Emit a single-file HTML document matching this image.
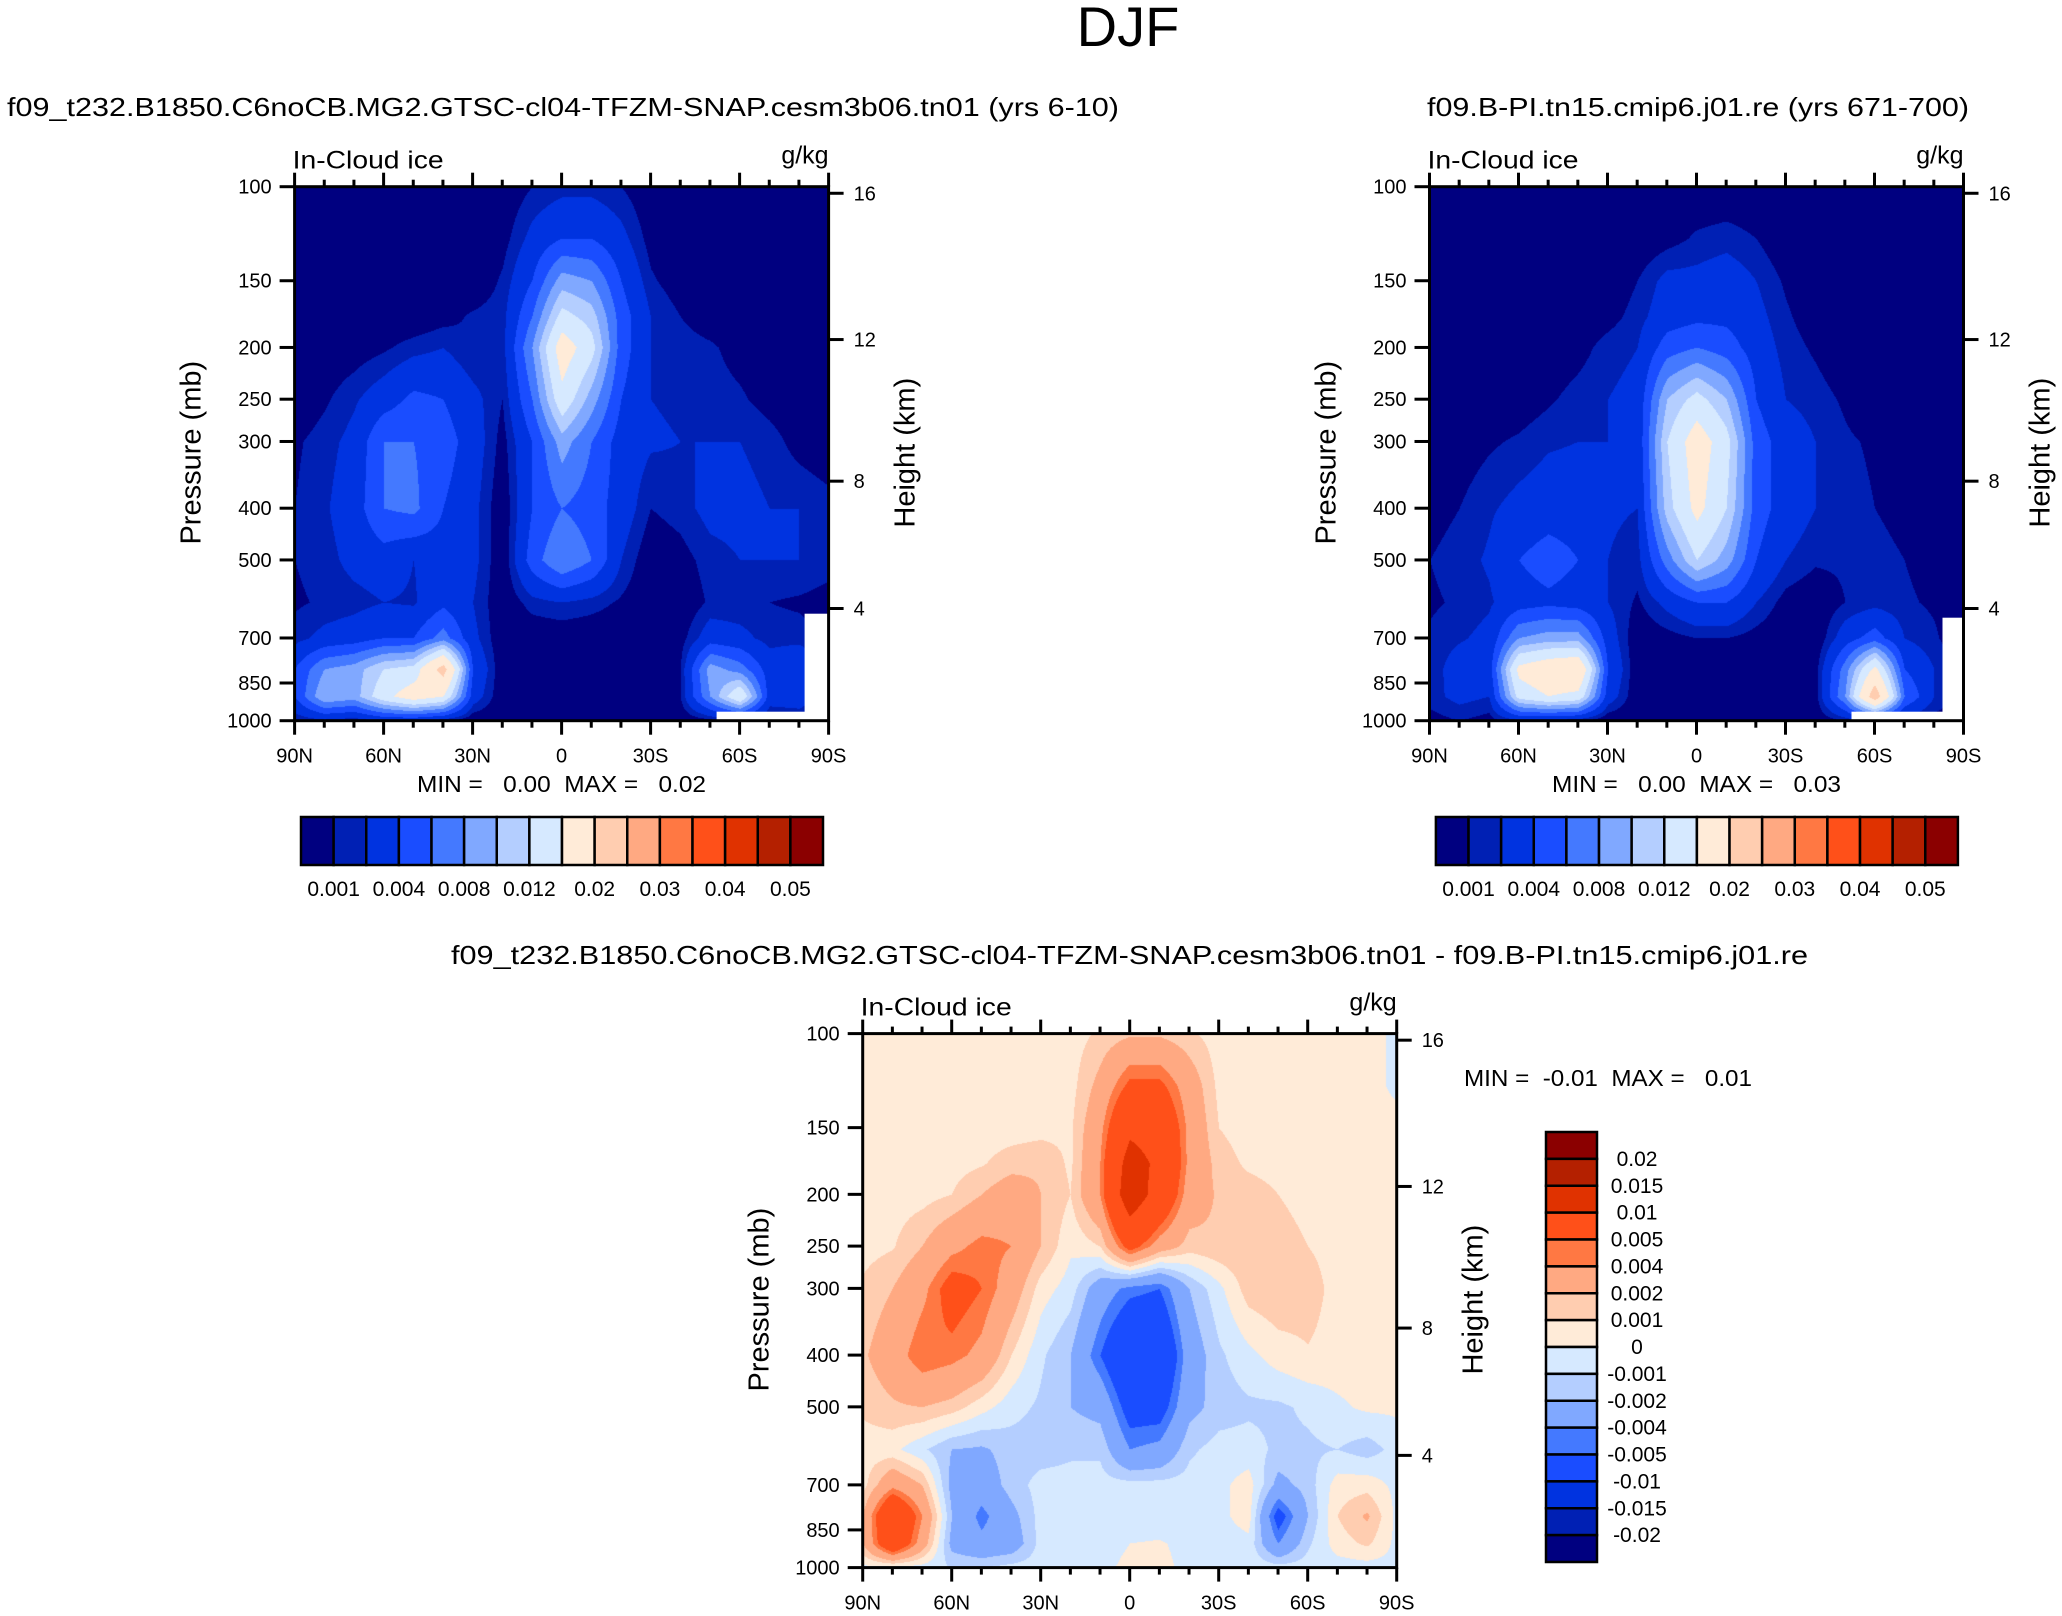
<!DOCTYPE html>
<html><head><meta charset="utf-8">
<style>
html,body{margin:0;padding:0;background:#fff;}
#wrap{position:relative;width:2062px;height:1616px;overflow:hidden;font-family:"Liberation Sans",Arial,sans-serif;}
canvas{position:absolute;}
svg{position:absolute;left:0;top:0;}
</style></head>
<body>
<div id="wrap">
<canvas id="c1" width="534" height="534" style="left:295px;top:187px"></canvas>
<canvas id="c2" width="534" height="534" style="left:1430px;top:187px"></canvas>
<canvas id="c3" width="534" height="534" style="left:863px;top:1034px"></canvas>
<svg id="ov" width="2062" height="1616" xmlns="http://www.w3.org/2000/svg">
<text x="1128" y="46" font-size="56" text-anchor="middle">DJF</text>
<text x="7" y="116" font-size="26" textLength="1112" lengthAdjust="spacingAndGlyphs">f09_t232.B1850.C6noCB.MG2.GTSC-cl04-TFZM-SNAP.cesm3b06.tn01 (yrs 6-10)</text>
<text x="1427" y="116" font-size="26" textLength="542" lengthAdjust="spacingAndGlyphs">f09.B-PI.tn15.cmip6.j01.re (yrs 671-700)</text>
<text x="451" y="964" font-size="26" textLength="1357" lengthAdjust="spacingAndGlyphs">f09_t232.B1850.C6noCB.MG2.GTSC-cl04-TFZM-SNAP.cesm3b06.tn01 - f09.B-PI.tn15.cmip6.j01.re</text>
<text x="417" y="792" font-size="23" textLength="289" lengthAdjust="spacingAndGlyphs" xml:space="preserve">MIN =   0.00  MAX =   0.02</text>
<text x="1552" y="792" font-size="23" textLength="289" lengthAdjust="spacingAndGlyphs" xml:space="preserve">MIN =   0.00  MAX =   0.03</text>
<text x="1464" y="1086" font-size="23" textLength="288" lengthAdjust="spacingAndGlyphs" xml:space="preserve">MIN =  -0.01  MAX =   0.01</text>
</svg>
</div>
<script>
// ---- data (units of 1e-3 g/kg) ----
const lats = ['90N','80N','70N','60N','50N','40N','30N','20N','10N','0','10S','20S','30S','40S','50S','60S','70S','80S','90S'];
const plev = [100,125,150,175,200,250,300,400,500,600,700,800,900,1000];
const latTickLabels = ['90N','60N','30N','0','30S','60S','90S'];
const pTickValues = [100,150,200,250,300,400,500,700,850,1000];
const zTickValues = [16,12,8,4];
const absLevels = [1,2,4,6,8,10,12,15,20,25,30,35,40,45,50];
const absLabels = ['0.001','0.004','0.008','0.012','0.02','0.03','0.04','0.05'];
const diffLevels = [-20,-15,-10,-5,-4,-2,-1,0,1,2,4,5,10,15,20];
const diffLabels = ['-0.02','-0.015','-0.01','-0.005','-0.004','-0.002','-0.001','0','0.001','0.002','0.004','0.005','0.01','0.015','0.02'];
const palette = ['#000080','#0020b4','#0033e0','#1a4dff','#4479ff','#80a8ff','#b4ceff','#d6e9ff','#ffebd8','#ffcdb0','#ffa982','#ff7843','#ff5019','#e03200','#b42000','#8b0000'];

const iceCase = [
[0,0,0,0,0,0,0,0,1,1.5,1.5,1,0,0,0,0,0,0,0],
[0,0,0,0,0,0,0,0.5,2.5,4,4,2.5,0.5,0,0,0,0,0,0],
[0,0,0,0,0,0,0,1.2,4,9,8,4,1.2,0.3,0,0,0,0,0],
[0,0,0,0,0,0.5,1.2,1.5,6,13,11,5,2,1,0.3,0,0,0,0],
[0,0,0.3,0.8,1.5,2,1,1.5,8,17,13,5,2,1.5,1.2,0.5,0,0,0],
[0,0.8,1.8,3,4.5,4,2.5,1,6,14,9,4,2,1.8,1.5,1.2,0.5,0,0],
[0.8,1.5,2.5,6,6,5,3,0.5,4,9,6,3,2.2,2,2,2,1.5,0.5,0],
[1,1.8,3,6,6.5,4,2.5,0,4,6,5,3,1,1.5,2.5,2.5,2,2,1.5],
[1,1.5,2.5,3,2,3,2.5,0,5,8,6,2,0,0.5,1.5,2,2,2,1.5],
[0.8,1.2,1.5,2,1.8,3.5,2,0,1.5,2,1.5,0.8,0,0,1.2,1.2,1,0.8,0.5],
[1.5,2.5,3,4,4,7,2.5,0,0,0,0,0,0,0.5,3,2.5,1.5,1.5,0.5],
[4,8,9,12,13,22,4,0,0,0,0,0,0,1,9,7,3,4,1],
[4,10,9,14,17,15,3,0,0,0,0,0,0,1,8,15,3,3,1],
[1,1.5,1,2,2,1,0,0,0,0,0,0,0,0,0.5,1,0.5,1,0.5]];

const iceCtrl = [
[0,0,0,0,0,0,0,0,0,0,0,0,0,0,0,0,0,0,0],
[0,0,0,0,0,0,0,0,0.5,1.2,1.5,1,0,0,0,0,0,0,0],
[0,0,0,0,0,0,0,1,2.5,2.5,3,2,0.8,0,0,0,0,0,0],
[0,0,0,0,0,0,0.5,1.5,3,3.5,3.5,2.5,1.2,0.3,0,0,0,0,0],
[0,0,0,0,0,0.5,1.5,2,5,6,5,3,1.5,0.8,0,0,0,0,0],
[0,0,0,0.2,0.8,1.5,2,2.5,10,13,10,4,2,1.5,0.8,0,0,0,0],
[0,0.3,0.8,1.2,1.8,2,2,2.5,12,17,13,5,3,2,1.2,0.8,0,0,0],
[0.5,1,1.8,2.5,3,3,2.2,2,11,16,12,5,3,2,1.5,1,0.8,0.3,0],
[1,1.5,2.2,4,5,4,2,1.5,7,12,9,4,2,1.2,1.2,1.2,1,0.5,0],
[0.8,1.2,1.8,3,3.5,3,2,0.8,2.5,4,4,2,0.5,0,1,1.5,1.2,0.8,0],
[1.2,1.8,2.5,8,9,9,3,0,0.5,1,1,0.5,0,0,3,5,2,1.2,0],
[1.2,3,3,16,18,19,4,0,0,0,0,0,0,0.5,7,16,4,2,0.5],
[1.5,2.5,2,13,15,14,3,0,0,0,0,0,0,0.5,8,23,6,2,0.5],
[0.5,1,0.5,1.5,1.5,1,0,0,0,0,0,0,0,0,1,2,1,0.5,0]];

const iceDiff = [
[.5,.5,.5,.5,.5,.5,.5,.5,1.2,1.8,1.8,1.2,.5,.5,.5,.5,.5,.5,-.3],
[.5,.5,.5,.5,.5,.5,.5,.6,2.5,5.5,5.5,3,.7,.5,.5,.5,.5,.5,-.3],
[.5,.5,.5,.5,.5,.5,.6,.8,3.5,9,8,3.5,1,.5,.5,.5,.5,.5,.5],
[.5,.5,.5,.6,.9,1.5,1.8,.8,4,12,9,3.5,1.5,.8,.6,.5,.5,.5,.5],
[.5,.5,.6,1,2,3,2,1,4,13,8,3,1.8,1.5,1,.6,.5,.5,.5],
[.6,.9,2,3.5,4.5,4,2,.2,1,6,3,1.5,1.8,1.8,1.5,1,.6,.5,.5],
[1.2,2,3.5,6,5,3,.5,-.5,-3,-4.5,-5,-2,-.3,1.5,1.8,1.5,.6,.5,.5],
[1.8,3,5,4.5,3.5,1,-.8,-2,-5,-8,-8,-3,-1.2,-.3,.5,.9,.6,.5,.5],
[1.2,1.8,2,1.5,.4,-.6,-1.2,-2,-2.5,-6,-6,-2.5,-1.5,-1.2,-1.2,-.8,-.2,.2,.2],
[.5,.3,-.8,-2,-2.2,-1.5,-1.5,-1.2,-1.2,-4,-3.5,-1.2,-.6,-.6,-1.2,-1.2,-1,-1.5,-.6],
[.6,3.5,2,-2.5,-3,-1.5,-.6,-.6,-.6,-.6,-.6,-.6,-.3,.5,-2.5,-1.5,.5,.6,-.3],
[2,9,4,-2,-4.5,-2.5,-.6,-.6,-.6,-.6,-.6,-.6,-.3,.5,-6,-2,1,2.2,-.3],
[2,8,3,-2.5,-3.5,-3,-.6,-.6,-.5,0,.1,-.3,-.5,-.3,-4,-1.2,.5,1.2,-.3],
[-.3,-.5,-.5,-1,-1,-.6,-.5,-.5,-.3,.3,.3,-.3,-.3,-.3,-.5,-.5,-.5,-.5,-.3]];

// ---- geometry ----
const S = 534;
function xOfLatIndex(i){ return i/(lats.length-1)*S; }
function yOfP(p){ return Math.log10(p/100)*S; }
function pOfZ(z){ const m=z*1000; return m<=11000 ? 1013.25*Math.pow(1-2.25577e-5*m,5.25588) : 226.32*Math.exp(-(m-11000)/6341.6); }
function hex2rgb(h){ return [parseInt(h.substr(1,2),16),parseInt(h.substr(3,2),16),parseInt(h.substr(5,2),16)]; }
const rgbPal = palette.map(hex2rgb);
function cls(v,levels){ let c=0; for(const l of levels){ if(v>=l) c++; } return c; }
const lp = plev.map(p=>Math.log(p));

function drawField(id,grid,levels){
  const cv=document.getElementById(id), ctx=cv.getContext('2d');
  const img=ctx.createImageData(S,S);
  for(let py=0;py<S;py++){
    const p=100*Math.pow(10,(py+0.5)/S), L=Math.log(p);
    let r=0; while(r<plev.length-2 && lp[r+1]<L) r++;
    const ty=Math.min(1,Math.max(0,(L-lp[r])/(lp[r+1]-lp[r])));
    for(let px=0;px<S;px++){
      const fx=(px+0.5)/S*(lats.length-1);
      let c=Math.min(lats.length-2,Math.floor(fx)); const tx=fx-c;
      const v=(grid[r][c]*(1-tx)+grid[r][c+1]*tx)*(1-ty)+(grid[r+1][c]*(1-tx)+grid[r+1][c+1]*tx)*ty;
      const col=rgbPal[cls(v,levels)], k=(py*S+px)*4;
      img.data[k]=col[0];img.data[k+1]=col[1];img.data[k+2]=col[2];img.data[k+3]=255;
    }
  }
  ctx.putImageData(img,0,0);
}
drawField('c1',iceCase,absLevels);
drawField('c2',iceCtrl,absLevels);
drawField('c3',iceDiff,diffLevels);

const NS='http://www.w3.org/2000/svg', ov=document.getElementById('ov');
function mk(tag,attrs,txt){ const e=document.createElementNS(NS,tag); for(const k in attrs) e.setAttribute(k,attrs[k]); if(txt!==undefined) e.textContent=txt; ov.appendChild(e); return e; }

function axes(X,Y,tag,mask){
  if(mask){
    for(const m of mask){
      const r=mk('rect',{x:X+m[0],y:Y+m[1],width:m[2],height:m[3],fill:'#fff'});
      
      
    }
  }
  const fr=mk('rect',{x:X,y:Y,width:S,height:S,fill:'none',stroke:'#000','stroke-width':3});
  
  
  for(let i=0;i<lats.length;i++){
    const x=X+xOfLatIndex(i), major=(i%3===0), len=major?14:7;
    const tb=mk('line',{x1:x,y1:Y+S,x2:x,y2:Y+S+len,stroke:'#000','stroke-width':3});
    
    
    const tt=mk('line',{x1:x,y1:Y,x2:x,y2:Y-len,stroke:'#000','stroke-width':3});
    
    
    if(major){
      const t=mk('text',{x:x,y:Y+S+42,'font-size':20,'text-anchor':'middle'},latTickLabels[i/3]);
      
      
    }
  }
  for(const p of pTickValues){
    const y=Y+yOfP(p);
    const l=mk('line',{x1:X-15,y1:y,x2:X,y2:y,stroke:'#000','stroke-width':3});
    
    
    const t=mk('text',{x:X-23,y:y+7,'font-size':20,'text-anchor':'end'},String(p));
    
    
  }
  for(const z of zTickValues){
    const y=Y+yOfP(pOfZ(z));
    const l=mk('line',{x1:X+S,y1:y,x2:X+S+15,y2:y,stroke:'#000','stroke-width':3});
    
    
    const t=mk('text',{x:X+S+25,y:y+7,'font-size':20},String(z));
    
    
  }
  const a=mk('text',{x:X-2,y:Y-18,'font-size':25,textLength:151,lengthAdjust:'spacingAndGlyphs'},'In-Cloud ice');
  
  
  const u=mk('text',{x:X+S,y:Y-23,'font-size':25,'text-anchor':'end'},'g/kg');
  
  
  const yl=mk('text',{x:0,y:0,'font-size':29,'text-anchor':'middle',transform:'translate('+(X-94)+','+(Y+S/2-1)+') rotate(-90)'},'Pressure (mb)');
  
  
  const hl=mk('text',{x:0,y:0,'font-size':29,'text-anchor':'middle',transform:'translate('+(X+S+86)+','+(Y+S/2-1)+') rotate(-90)'},'Height (km)');
  
  
}
axes(294.6,186.7,'left',[[422,525,112,9],[510,427,24,107]]);
axes(1429.5,186.7,'right',[[422,525,112,9],[513,431,21,103]]);
axes(862.7,1033.6,'difference',null);

function hbar(X,tag){
  const bx=X+6.4, by=817, bw=(522)/16, bh=48;
  for(let i=0;i<16;i++){
    const r=mk('rect',{x:bx+i*bw,y:by,width:bw,height:bh,fill:palette[i],stroke:'#000','stroke-width':2.5});
    
    
  }
  for(let j=0;j<absLabels.length;j++){
    const t=mk('text',{x:bx+(2*j+1)*bw,y:896,'font-size':21,'text-anchor':'middle'},absLabels[j]);
    
    
  }
}
hbar(294.6,'left');
hbar(1429.5,'right');

(function(){
  const bx=1546, by=1132, bw=51, bh=430/16;
  for(let i=0;i<16;i++){
    const r=mk('rect',{x:bx,y:by+i*bh,width:bw,height:bh,fill:palette[15-i],stroke:'#000','stroke-width':2.5});
    
    
  }
  for(let i=0;i<15;i++){
    const t=mk('text',{x:1637,y:by+(i+1)*bh+7,'font-size':21,'text-anchor':'middle'},diffLabels[14-i]);
    
    
  }
})();
</script>
</body></html>
